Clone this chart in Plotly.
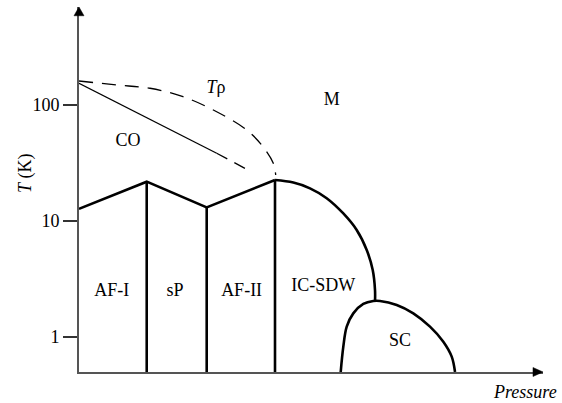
import plotly.graph_objects as go

# ---- data (pressure in arbitrary units, temperature in K) ----
af_top_p = [0.0, 1.453, 2.740, 4.206]
af_top_T = [12.7, 21.8, 13.1, 22.5]

wall_p = [1.453, 2.740, 4.206]
wall_top_T = [21.8, 13.1, 22.5]
T_floor = 0.5

sdw_p = [4.206, 4.599, 4.957, 5.315, 5.672, 5.959, 6.174, 6.303, 6.352, 6.352]
sdw_T = [22.5, 21.4, 19.1, 15.7, 11.6, 8.36, 5.62, 3.78, 2.54, 2.046]

sc_p = [5.616, 5.672, 5.745, 5.886, 6.101, 6.315, 6.459, 6.818, 7.174, 7.532, 7.818, 7.998, 8.069]
sc_T = [0.5, 0.826, 1.229, 1.60, 1.928, 2.046, 2.046, 1.889, 1.60, 1.229, 0.912, 0.678, 0.5]

co_solid_p = [0.0, 2.955]
co_solid_T = [153.5, 38.3]
co_dash_p = [2.955, 3.670]
co_dash_T = [38.3, 26.9]

trho_p = [0.0, 0.809, 1.524, 2.232, 2.955, 3.599, 3.948, 4.170, 4.221]
trho_T = [160.6, 148.3, 139.0, 117.7, 87.3, 60.8, 43.6, 31.4, 24.9]

label_text = ["CO", "M", "<i>T</i>ρ", "AF-I", "sP", "AF-II", "IC-SDW", "SC"]
label_p = [1.052, 5.423, 2.94, 0.702, 2.06, 3.49, 5.243, 6.888]
label_T = [48.2, 110, 139.7, 2.46, 2.46, 2.46, 2.70, 0.912]

tick_vals = [1, 10, 100]
tick_text = ["1", "10", "100"]

FONT = "Liberation Serif"
thick = dict(color="black", width=2.6)

fig = go.Figure()

fig.add_trace(go.Scatter(x=af_top_p, y=af_top_T, mode="lines", line=thick))
walls_x, walls_y = [], []
for p, t in zip(wall_p, wall_top_T):
    walls_x += [p, p, None]
    walls_y += [t, T_floor, None]
fig.add_trace(go.Scatter(x=walls_x, y=walls_y, mode="lines", line=thick))
fig.add_trace(go.Scatter(x=sdw_p, y=sdw_T, mode="lines",
                         line=dict(color="black", width=2.6, shape="spline")))
fig.add_trace(go.Scatter(x=sc_p, y=sc_T, mode="lines",
                         line=dict(color="black", width=2.6, shape="spline")))
fig.add_trace(go.Scatter(x=co_solid_p, y=co_solid_T, mode="lines",
                         line=dict(color="black", width=1.3)))
fig.add_trace(go.Scatter(x=co_dash_p, y=co_dash_T, mode="lines",
                         line=dict(color="black", width=1.3, dash="12px,8px")))
fig.add_trace(go.Scatter(x=trho_p, y=trho_T, mode="lines",
                         line=dict(color="black", width=1.3, dash="14px,9px", shape="spline")))
fig.add_trace(go.Scatter(x=label_p, y=label_T, mode="text", text=label_text,
                         textfont=dict(family=FONT, size=18, color="black")))

# arrow heads (paper coordinates)
fig.add_shape(type="path", xref="paper", yref="paper",
              path="M 0 1 L -0.0108 0.976 L 0.0108 0.976 Z",
              fillcolor="black", line=dict(color="black", width=0.5))
fig.add_shape(type="path", xref="paper", yref="paper",
              path="M 1 0 L 0.9784 0.0123 L 0.9784 -0.0123 Z",
              fillcolor="black", line=dict(color="black", width=0.5))

fig.add_annotation(text="<i>T</i> (K)", xref="paper", yref="paper",
                   x=-0.1164, y=0.545, textangle=-90, showarrow=False,
                   xanchor="center", yanchor="middle",
                   font=dict(family=FONT, size=18, color="black"))
fig.add_annotation(text="<i>Pressure</i>", xref="paper", yref="paper",
                   x=0.961, y=-0.055, showarrow=False,
                   xanchor="center", yanchor="middle",
                   font=dict(family=FONT, size=18, color="black"))

fig.update_layout(
    width=562, height=403,
    margin=dict(l=79, r=19, t=7, b=31),
    plot_bgcolor="white", paper_bgcolor="white",
    showlegend=False, hovermode=False,
    xaxis=dict(range=[0, 9.957], showgrid=False, zeroline=False,
               showline=True, linecolor="#555", linewidth=2,
               showticklabels=False, ticks=""),
    yaxis=dict(type="log", range=[-0.301, 2.843], showgrid=False, zeroline=False,
               showline=True, linecolor="#555", linewidth=2,
               tickvals=tick_vals, ticktext=tick_text,
               ticks="outside", ticklen=14, tickwidth=2, tickcolor="#333",
               tickfont=dict(family=FONT, size=18, color="black")),
)

fig.write_html("out.html", config={"displayModeBar": False},
               post_script="document.body.style.margin='0';")
